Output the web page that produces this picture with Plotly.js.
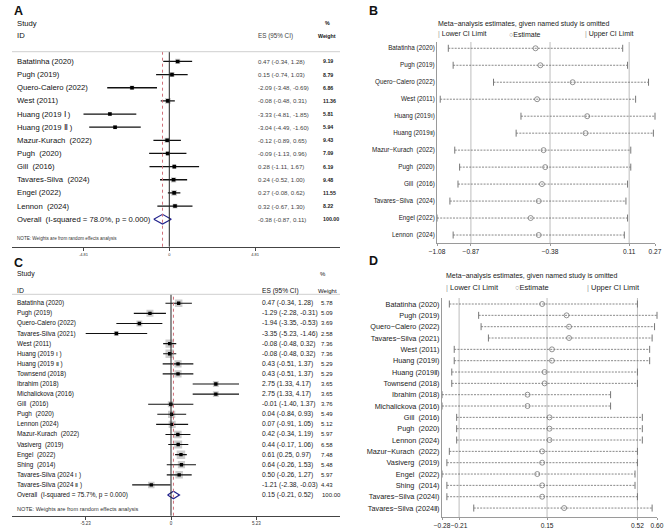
<!DOCTYPE html>
<html>
<head>
<meta charset="utf-8">
<script src="https://cdn.plot.ly/plotly-3.0.1.min.js"></script>
<style>
  html, body { margin: 0; padding: 0; background: #fff; }
  #fig { width: 669px; height: 532px; }
</style>
</head>
<body>
<div id="fig"></div>
<script>
// ---------- Panel A: forest plot ----------
const studiesA = ["Batatinha (2020)", "Pugh (2019)", "Quero-Calero (2022)", "West (2011)",
  "Huang (2019 Ⅰ )", "Huang (2019 Ⅱ )", "Mazur-Kurach\u00a0\u00a0(2022)", "Pugh\u00a0\u00a0(2020)",
  "Gill\u00a0\u00a0(2016)", "Tavares-Silva\u00a0\u00a0(2024)", "Engel (2022)", "Lennon\u00a0\u00a0(2024)"];
const esA  = [0.47, 0.15, -2.09, -0.08, -3.33, -3.04, -0.12, -0.09, 0.28, 0.24, 0.27, 0.32];
const loA  = [-0.34, -0.74, -3.48, -0.48, -4.81, -4.49, -0.89, -1.13, -1.11, -0.52, -0.08, -0.67];
const hiA  = [1.28, 1.03, -0.69, 0.31, -1.85, -1.60, 0.65, 0.96, 1.67, 1.00, 0.62, 1.30];
const wtA  = [9.19, 8.79, 6.86, 11.36, 5.81, 5.94, 9.43, 7.09, 6.19, 9.48, 11.55, 8.22];
const overallA = [-0.38, -0.87, 0.11];      // estimate, lower, upper
const hetA = ["78.0%", "0.000"];             // I-squared, p
const ticksA = [-4.81, 0, 4.81];

// ---------- Panel C: forest plot ----------
const studiesC = ["Batatinha (2020)", "Pugh (2019)", "Quero-Calero (2022)", "Tavares-Silva (2021)",
  "West (2011)", "Huang (2019 Ⅰ )", "Huang (2019 Ⅱ )", "Townsend (2018)", "Ibrahim (2018)",
  "Michalickova (2016)", "Gill\u00a0\u00a0(2016)", "Pugh\u00a0\u00a0(2020)", "Lennon (2024)",
  "Mazur-Kurach\u00a0\u00a0(2022)", "Vasiverg\u00a0\u00a0(2019)", "Engel\u00a0\u00a0(2022)",
  "Shing\u00a0\u00a0(2014)", "Tavares-Silva (2024 Ⅰ )", "Tavares-Silva (2024 Ⅱ )"];
const esC = [0.47, -1.29, -1.94, -3.35, -0.08, -0.08, 0.43, 0.43, 2.75, 2.75, -0.01, 0.04, 0.07, 0.42, 0.44, 0.61, 0.64, 0.50, -1.21];
const loC = [-0.34, -2.28, -3.35, -5.23, -0.48, -0.48, -0.51, -0.51, 1.33, 1.33, -1.40, -0.84, -0.91, -0.34, -0.17, 0.25, -0.26, -0.26, -2.38];
const hiC = [1.28, -0.31, -0.53, -1.46, 0.32, 0.32, 1.37, 1.37, 4.17, 4.17, 1.37, 0.93, 1.05, 1.19, 1.06, 0.97, 1.53, 1.27, -0.03];
const wtC = [5.78, 5.09, 3.69, 2.58, 7.36, 7.36, 5.29, 5.29, 3.65, 3.65, 3.76, 5.49, 5.12, 5.97, 6.58, 7.48, 5.48, 5.97, 4.43];
const overallC = [0.15, -0.21, 0.52];
const hetC = ["75.7%", "0.000"];
const ticksC = [-5.23, 0, 5.23];
const totalWeight = 100;

// ---------- Panel B: leave-one-out estimates (set A) ----------
const studiesB = ["Batatinha (2020)", "Pugh (2019)", "Quero\u2212Calero (2022)", "West (2011)",
  "Huang (2019Ⅰ)", "Huang (2019Ⅱ)", "Mazur\u2212Kurach\u00a0\u00a0(2022)", "Pugh\u00a0\u00a0(2020)",
  "Gill\u00a0\u00a0(2016)", "Tavares\u2212Silva\u00a0\u00a0(2024)", "Engel (2022)", "Lennon\u00a0\u00a0(2024)"];
const estB = [-0.47, -0.44, -0.24, -0.46, -0.15, -0.16, -0.42, -0.41, -0.43, -0.45, -0.50, -0.45];
const lowB = [-1.01, -0.98, -0.73, -1.06, -0.56, -0.59, -0.97, -0.94, -0.95, -1.00, -1.08, -0.98];
const upB  = [0.07, 0.10, 0.23, 0.15, 0.27, 0.26, 0.12, 0.12, 0.10, 0.09, 0.10, 0.08];

// ---------- Panel D: leave-one-out estimates (set C) ----------
const studiesD = ["Batatinha (2020)", "Pugh (2019)", "Quero\u2212Calero (2022)", "Tavares\u2212Silva (2021)",
  "West (2011)", "Huang (2019Ⅰ)", "Huang (2019Ⅱ)", "Townsend (2018)", "Ibrahim (2018)",
  "Michalickova (2016)", "Gill\u00a0\u00a0(2016)", "Pugh\u00a0\u00a0(2020)", "Lennon (2024)",
  "Mazur\u2212Kurach\u00a0\u00a0(2022)", "Vasiverg\u00a0\u00a0(2019)", "Engel\u00a0\u00a0(2022)",
  "Shing\u00a0\u00a0(2014)", "Tavares\u2212Silva (2024Ⅰ)", "Tavares\u2212Silva (2024Ⅱ)"];
const estD = [0.13, 0.23, 0.24, 0.24, 0.17, 0.17, 0.14, 0.14, 0.07, 0.07, 0.16, 0.16, 0.16, 0.13, 0.13, 0.11, 0.13, 0.13, 0.22];
const lowD = [-0.25, -0.13, -0.12, -0.09, -0.23, -0.23, -0.24, -0.24, -0.28, -0.28, -0.22, -0.22, -0.22, -0.25, -0.26, -0.28, -0.26, -0.26, -0.15];
const upD  = [0.52, 0.60, 0.59, 0.58, 0.57, 0.57, 0.52, 0.52, 0.41, 0.41, 0.54, 0.54, 0.54, 0.52, 0.52, 0.51, 0.51, 0.52, 0.58];

// ---------- helpers ----------
const W = 669, H = 532;
const fx = p => p / W;          // pixel column -> paper x
const fy = p => 1 - p / H;      // pixel row -> paper y
const FONT = "Liberation Sans, Arial, Helvetica, sans-serif";
const fmt = v => v.toFixed(2);
const esText = (e, l, h) => `${fmt(e)} (${fmt(l)}, ${fmt(h)})`;
const minus = s => s.replace("-", "\u2212");

const traces = [];
const shapes = [];
const annotations = [];

function note(xp, yp, text, size, opt = {}) {
  annotations.push(Object.assign({
    xref: "paper", yref: "paper", x: fx(xp), y: fy(yp), text, showarrow: false,
    xanchor: "left", yanchor: "middle", borderpad: 0,
    font: { family: FONT, size, color: opt.color || "#111" }
  }, opt.extra || {}));
}
function rowNote(xp, yref, yi, text, size, color) {
  annotations.push({
    xref: "paper", yref, x: fx(xp), y: yi, text, showarrow: false,
    xanchor: "left", yanchor: "middle", borderpad: 0,
    font: { family: FONT, size, color: color || "#111" }
  });
}

// forest plot: weight boxes, CI lines, point estimates, pooled diamond, reference lines, text columns
function forest(k, P) {
  const xa = "x" + k, ya = "y" + k;
  const n = P.es.length;
  const idx = P.es.map((_, i) => i);
  const cx = [], cy = [];
  idx.forEach(i => { cx.push(P.lo[i], P.hi[i], null); cy.push(i, i, null); });
  const [oe, ol, oh] = P.overall;
  traces.push(
    { type: "scatter", mode: "markers", x: P.es, y: idx, xaxis: xa, yaxis: ya, hoverinfo: "skip",
      marker: { symbol: "square", size: P.wt.map(w => Math.sqrt(w) * P.box), color: "#b8b8b8", line: { width: 0 } } },
    { type: "scatter", mode: "lines", x: cx, y: cy, xaxis: xa, yaxis: ya, hoverinfo: "skip",
      line: { color: "#111", width: P.lw } },
    { type: "scatter", mode: "markers", x: P.es, y: idx, xaxis: xa, yaxis: ya, hoverinfo: "skip",
      marker: { symbol: "square", size: P.dot, color: "#000", line: { width: 0 } } },
    { type: "scatter", mode: "lines", x: [ol, oe, oh, oe, ol], y: [n, n - 0.37, n, n + 0.37, n],
      xaxis: xa, yaxis: ya, hoverinfo: "skip", line: { color: "#23238c", width: 1.2 } }
  );
  // no-effect line and pooled-estimate line
  shapes.push(
    { type: "line", xref: xa, yref: ya + " domain", x0: 0, x1: 0, y0: 0, y1: 1,
      line: { color: "#222", width: 1 } },
    { type: "line", xref: xa, yref: ya + " domain", x0: oe, x1: oe, y0: 0, y1: 1,
      line: { color: "#d0707a", width: 1, dash: "dot" } },
    { type: "line", xref: "paper", yref: "paper", x0: fx(12), x1: fx(340), y0: fy(P.headLine), y1: fy(P.headLine),
      line: { color: "#cfcfcf", width: 1 } }
  );
  idx.forEach(i => {
    rowNote(16, ya, i, P.names[i], P.fLab);
    rowNote(P.xES, ya, i, esText(P.es[i], P.lo[i], P.hi[i]), P.fES, P.esColor);
    rowNote(P.xW, ya, i, P.wBold ? "<b>" + fmt(P.wt[i]) + "</b>" : fmt(P.wt[i]), P.fW, "#222");
  });
  rowNote(16, ya, n, `Overall\u00a0\u00a0(I-squared = ${P.het[0]}, p = ${P.het[1]})`, P.fLab);
  rowNote(P.xES, ya, n, esText(oe, ol, oh), P.fES, P.esColor);
  rowNote(P.xW + P.dW, ya, n, P.wBold ? "<b>" + fmt(totalWeight) + "</b>" : fmt(totalWeight), P.fW, "#222");
}

// leave-one-out plot: dotted interval, limit ticks, open-circle estimates, gridlines at pooled values
function sens(k, est, low, up, overall) {
  const xa = "x" + k, ya = "y" + k;
  const idx = est.map((_, i) => i);
  const lx = [], ly = [];
  idx.forEach(i => { lx.push(low[i], up[i], null); ly.push(i, i, null); });
  overall.forEach(v => shapes.push({ type: "line", xref: xa, yref: ya + " domain", x0: v, x1: v, y0: 0, y1: 1,
    line: { color: "#bdbdbd", width: 1 }, layer: "below" }));
  traces.push(
    { type: "scatter", mode: "lines", x: lx, y: ly, xaxis: xa, yaxis: ya, hoverinfo: "skip",
      line: { color: "#6a6a6a", width: 0.8, dash: "2px,1.2px" } },
    { type: "scatter", mode: "markers", x: low, y: idx, xaxis: xa, yaxis: ya, hoverinfo: "skip", cliponaxis: false,
      marker: { symbol: "line-ns", size: 5, line: { color: "#777", width: 1 } } },
    { type: "scatter", mode: "markers", x: up, y: idx, xaxis: xa, yaxis: ya, hoverinfo: "skip", cliponaxis: false,
      marker: { symbol: "line-ns", size: 5, line: { color: "#777", width: 1 } } },
    { type: "scatter", mode: "markers", x: est, y: idx, xaxis: xa, yaxis: ya, hoverinfo: "skip", cliponaxis: false,
      marker: { symbol: "circle-open", size: 5, color: "#777", line: { width: 0.8 } } }
  );
}

forest("", { names: studiesA, es: esA, lo: loA, hi: hiA, wt: wtA, overall: overallA, het: hetA,
  box: 1.7, dot: 3.6, lw: 1.3, fLab: 7.7, fES: 6.1, fW: 5.3, esColor: "#444", wBold: true,
  xES: 257, xW: 322, dW: 0, headLine: 51.7 });
forest("2", { names: studiesC, es: esC, lo: loC, hi: hiC, wt: wtC, overall: overallC, het: hetC,
  box: 3.1, dot: 3.4, lw: 1.1, fLab: 6.4, fES: 6.7, fW: 6, esColor: "#222", wBold: false,
  xES: 261, xW: 320, dW: 1, headLine: 294.3 });
sens("3", estB, lowB, upB, overallA);
sens("4", estD, lowD, upD, overallC);

// ---------- headers and titles ----------
note(18, 11, "<b>A</b>", 12.5, { extra: { xanchor: "center" } });
note(16, 23.3, "Study", 7.7);
note(16, 35.7, "ID", 7.7);
note(257, 35.7, "ES (95% CI)", 6.3, { color: "#444" });
note(324, 22.7, "<b>%</b>", 5.3);
note(317, 35.7, "<b>Weight</b>", 5.3);
note(16, 238.3, "NOTE: Weights are from random effects analysis", 4.6, { color: "#333" });

note(18, 262.5, "<b>C</b>", 12.5, { extra: { xanchor: "center" } });
note(16, 274.3, "Study", 6.9);
note(16, 290.7, "ID", 6.9);
note(261, 290.7, "ES (95% CI)", 6.6);
note(319, 274.3, "%", 6);
note(317, 290.7, "Weight", 6);
note(16, 509, "NOTE: Weights are from random effects analysis", 5.6, { color: "#333" });

const legendRow = (x1, x2, x3, y, size) => {
  note(x1, y, "<span style='color:#999'>|</span> Lower CI Limit", size, { color: "#222" });
  note(x2, y, "<span style='color:#888'>○</span>Estimate", size, { color: "#222" });
  note(x3, y, "<span style='color:#999'>|</span> Upper CI Limit", size, { color: "#222" });
};
note(373, 11.5, "<b>B</b>", 12.5, { extra: { xanchor: "center" } });
note(437, 24, "Meta\u2212analysis estimates, given named study is omitted", 7, { color: "#222" });
legendRow(437, 508, 584, 34, 7);

note(373, 261, "<b>D</b>", 12.5, { extra: { xanchor: "center" } });
note(445, 275.7, "Meta\u2212analysis estimates, given named study is omitted", 7, { color: "#222" });
legendRow(445, 514, 586, 287.3, 7.5);

// ---------- axes ----------
function forestX(x0, x1, zeroPx, pxPerUnit, ticks, anchor, size) {
  return {
    domain: [fx(x0), fx(x1)], anchor,
    range: [(x0 - zeroPx) / pxPerUnit, (x1 - zeroPx) / pxPerUnit],
    showline: true, linecolor: "#444", linewidth: 1, mirror: false,
    ticks: "outside", ticklen: 3, tickwidth: 1, tickcolor: "#444", tickangle: 0,
    tickvals: ticks, ticktext: ticks.map(t => t === 0 ? "0" : fmt(t)),
    tickfont: { family: FONT, size, color: "#333" },
    showgrid: false, zeroline: false, fixedrange: true
  };
}
function sensX(x0, x1, low, up, overall, anchor) {
  const lo = Math.min(...low), hi = Math.max(...up);
  const vals = [lo, overall[1], overall[0], overall[2], hi];
  return {
    domain: [fx(x0), fx(x1)], anchor, range: [lo, hi],
    showline: true, linecolor: "#9a9a9a", linewidth: 1,
    ticks: "outside", ticklen: 2, tickcolor: "#9a9a9a", tickangle: 0,
    tickvals: vals, ticktext: vals.map(v => minus(fmt(v))),
    tickfont: { family: FONT, size: 6.6, color: "#222" },
    showgrid: false, zeroline: false, fixedrange: true
  };
}
function sensY(y0, y1, r0, r1, names, anchor, size) {
  return {
    domain: [fy(y1), fy(y0)], anchor, range: [r1, r0],
    showline: true, linecolor: "#9a9a9a", linewidth: 1,
    tickvals: names.map((_, i) => i), ticktext: names, ticks: "",
    tickfont: { family: FONT, size, color: "#222" },
    showgrid: false, zeroline: false, fixedrange: true
  };
}

const layout = {
  width: W, height: H, margin: { l: 0, r: 0, t: 0, b: 0 },
  paper_bgcolor: "#fff", plot_bgcolor: "rgba(0,0,0,0)", showlegend: false,
  font: { family: FONT },
  xaxis:  forestX(12, 340, 169.3, 17.84, ticksA, "y", 4),
  yaxis:  { domain: [fy(246.7), fy(51.7)], range: [14.09, -0.74], visible: false, fixedrange: true },
  xaxis2: forestX(12, 340, 171, 16.31, ticksC, "y2", 4.5),
  yaxis2: { domain: [fy(515.7), fy(294.3)], range: [21.05, -0.89], visible: false, fixedrange: true },
  xaxis3: sensX(437, 655, lowB, upB, overallA, "y3"),
  yaxis3: sensY(42, 243, -0.37, 11.47, studiesB, "x3", 6.3),
  xaxis4: sensX(442, 657, lowD, upD, overallC, "y4"),
  yaxis4: sensY(298, 517, -0.53, 18.79, studiesD, "x4", 7.3),
  shapes, annotations
};

Plotly.newPlot("fig", traces, layout, { staticPlot: true, displayModeBar: false });
</script>
</body>
</html>
